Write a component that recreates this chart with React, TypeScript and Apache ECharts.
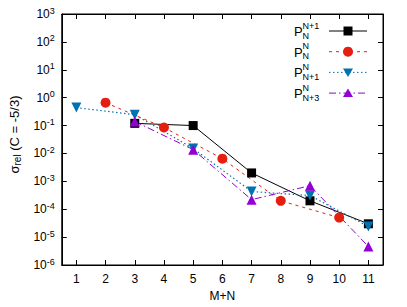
import React, { useEffect, useRef } from "react";
import * as echarts from "echarts";

const xTicks = [1, 2, 3, 4, 5, 6, 7, 8, 9, 10, 11];

const xBlack = [3, 5, 7, 9, 11];
const yBlack = [0.12, 0.1, 0.002, 0.0002, 0.00003];
const xRed = [2, 4, 6, 8, 10];
const yRed = [0.66, 0.085, 0.0065, 0.0002, 0.00005];
const xBlue = [1, 3, 5, 7, 9, 11];
const yBlue = [0.44, 0.245, 0.015, 0.00043, 0.00031, 0.000024];
const xPurple = [3, 5, 7, 9, 11];
const yPurple = [0.14, 0.0137, 0.00022, 0.0007, 0.0000046];

const legendSup = ["N+1", "N", "N", "N"];
const legendSub = ["N", "N", "N+1", "N+3"];

const FONT = "Liberation Sans, Arial, Helvetica, sans-serif";
const colors = ["#000000", "#e51e10", "#0072b2", "#9400d3"];
const dashes: any[] = [null, [3, 4], [1.5, 2.5], [7, 3, 1.5, 3]];

function pairs(xs: number[], ys: number[]) {
  return xs.map((x, i) => [x, ys[i]]);
}

export default function App() {
  const ref = useRef<HTMLDivElement>(null);
  useEffect(() => {
    if (!ref.current) return;
    const chart = echarts.init(ref.current, null, { renderer: "svg" });

    const gridL = 53, gridT = 14, gridR = 383, gridB = 265;

    const axisCommon = {
      type: "value" as const,
      min: 0.5,
      max: 11.5,
      axisLine: { show: true, lineStyle: { color: "#000", width: 1 } },
      splitLine: { show: false },
    };

    const graphic: any[] = [];
    const legendX0 = 294;
    const lineX1 = 329, lineX2 = 367, markX = 348;
    for (let i = 0; i < 4; i++) {
      const y = 31 + 20.7 * i;
      graphic.push({
        type: "text",
        x: legendX0,
        y: y + 0.5,
        style: { text: "P", font: `13px ${FONT}`, fill: "#000", textAlign: "left", textVerticalAlign: "middle" },
      });
      graphic.push({
        type: "text",
        x: legendX0 + 8.5,
        y: y - 5.5,
        style: { text: legendSup[i], font: `9px ${FONT}`, fill: "#000", textAlign: "left", textVerticalAlign: "middle" },
      });
      graphic.push({
        type: "text",
        x: legendX0 + 8.5,
        y: y + 4.5,
        style: { text: legendSub[i], font: `9px ${FONT}`, fill: "#000", textAlign: "left", textVerticalAlign: "middle" },
      });
      graphic.push({
        type: "line",
        shape: { x1: lineX1, y1: y, x2: lineX2, y2: y },
        style: { stroke: colors[i], lineWidth: 1, lineDash: dashes[i] || undefined },
      });
      if (i === 0) {
        graphic.push({ type: "rect", shape: { x: markX - 4.5, y: y - 4.5, width: 9, height: 9 }, style: { fill: colors[i] } });
      } else if (i === 1) {
        graphic.push({ type: "circle", shape: { cx: markX, cy: y, r: 5 }, style: { fill: colors[i] } });
      } else if (i === 2) {
        graphic.push({ type: "polygon", shape: { points: [[markX - 5, y - 4], [markX + 5, y - 4], [markX, y + 4.5]] }, style: { fill: colors[i] } });
      } else {
        graphic.push({ type: "polygon", shape: { points: [[markX - 5, y + 4], [markX + 5, y + 4], [markX, y - 4.5]] }, style: { fill: colors[i] } });
      }
    }

    chart.setOption({
      animation: false,
      backgroundColor: "#ffffff",
      textStyle: { fontFamily: FONT },
      grid: {
        left: gridL,
        top: gridT,
        width: gridR - gridL,
        height: gridB - gridT,
        show: true,
        borderColor: "#000",
        borderWidth: 1,
        containLabel: false,
      },
      xAxis: [
        {
          ...axisCommon,
          position: "bottom",
          name: "M+N",
          nameLocation: "middle",
          nameGap: 25,
          nameTextStyle: { fontSize: 12, color: "#000", fontFamily: FONT },
          axisTick: { show: true, inside: true, length: 5, customValues: xTicks, lineStyle: { color: "#000" } },
          axisLabel: { show: true, customValues: xTicks, fontSize: 12, color: "#000", margin: 8, fontFamily: FONT },
        },
        {
          ...axisCommon,
          position: "top",
          axisTick: { show: true, inside: true, length: 5, customValues: xTicks, lineStyle: { color: "#000" } },
          axisLabel: { show: false },
        },
      ],
      yAxis: [
        {
          type: "log",
          logBase: 10,
          min: 1e-6,
          max: 1e3,
          splitNumber: 9,
          position: "left",
          axisLine: { show: true, lineStyle: { color: "#000", width: 1 } },
          splitLine: { show: false },
          minorTick: { show: false },
          axisTick: { show: true, inside: true, length: 5, lineStyle: { color: "#000" } },
          axisLabel: {
            show: true,
            margin: 7,
            color: "#000",
            fontSize: 12,
            fontFamily: FONT,
            formatter: (v: number) => `10{sup|${Math.round(Math.log10(v))}}`,
            rich: {
              sup: { fontSize: 9, padding: [0, 0, 7, 0], color: "#000", fontFamily: FONT },
            },
          },
          name: "σ{sub|rel} (C = -5/3)",
          nameLocation: "middle",
          nameGap: 39,
          nameRotate: 90,
          nameTextStyle: {
            fontSize: 13,
            color: "#000",
            fontFamily: FONT,
            padding: [0, 0, 0, 10],
            rich: { sub: { fontSize: 10, padding: [6, 0, 0, 0], verticalAlign: "bottom", color: "#000", fontFamily: FONT } },
          },
        },
        {
          type: "log",
          logBase: 10,
          min: 1e-6,
          max: 1e3,
          splitNumber: 9,
          position: "right",
          axisLine: { show: true, lineStyle: { color: "#000", width: 1 } },
          splitLine: { show: false },
          minorTick: { show: false },
          axisTick: { show: true, inside: true, length: 5, lineStyle: { color: "#000" } },
          axisLabel: { show: false },
        },
      ],
      graphic,
      series: [
        {
          name: "P_N^{N+1}",
          type: "line",
          xAxisIndex: 0,
          yAxisIndex: 0,
          data: pairs(xBlack, yBlack),
          symbol: "rect",
          symbolSize: 9,
          itemStyle: { color: colors[0] },
          lineStyle: { color: colors[0], width: 1, type: "solid" },
        },
        {
          name: "P_N^N",
          type: "line",
          xAxisIndex: 0,
          yAxisIndex: 0,
          data: pairs(xRed, yRed),
          symbol: "circle",
          symbolSize: 10,
          itemStyle: { color: colors[1] },
          lineStyle: { color: colors[1], width: 1, type: dashes[1] },
        },
        {
          name: "P_{N+1}^N",
          type: "line",
          xAxisIndex: 0,
          yAxisIndex: 0,
          data: pairs(xBlue, yBlue),
          symbol: "triangle",
          symbolRotate: 180,
          symbolSize: 10,
          itemStyle: { color: colors[2] },
          lineStyle: { color: colors[2], width: 1.2, type: dashes[2] },
        },
        {
          name: "P_{N+3}^N",
          type: "line",
          xAxisIndex: 0,
          yAxisIndex: 0,
          data: pairs(xPurple, yPurple),
          symbol: "triangle",
          symbolSize: 10,
          itemStyle: { color: colors[3] },
          lineStyle: { color: colors[3], width: 1, type: dashes[3] },
        },
      ],
    });
    return () => chart.dispose();
  }, []);

  return (
    <div
      ref={ref}
      style={{ position: "fixed", left: 0, top: 0, width: 407, height: 307, background: "#fff" }}
    />
  );
}
